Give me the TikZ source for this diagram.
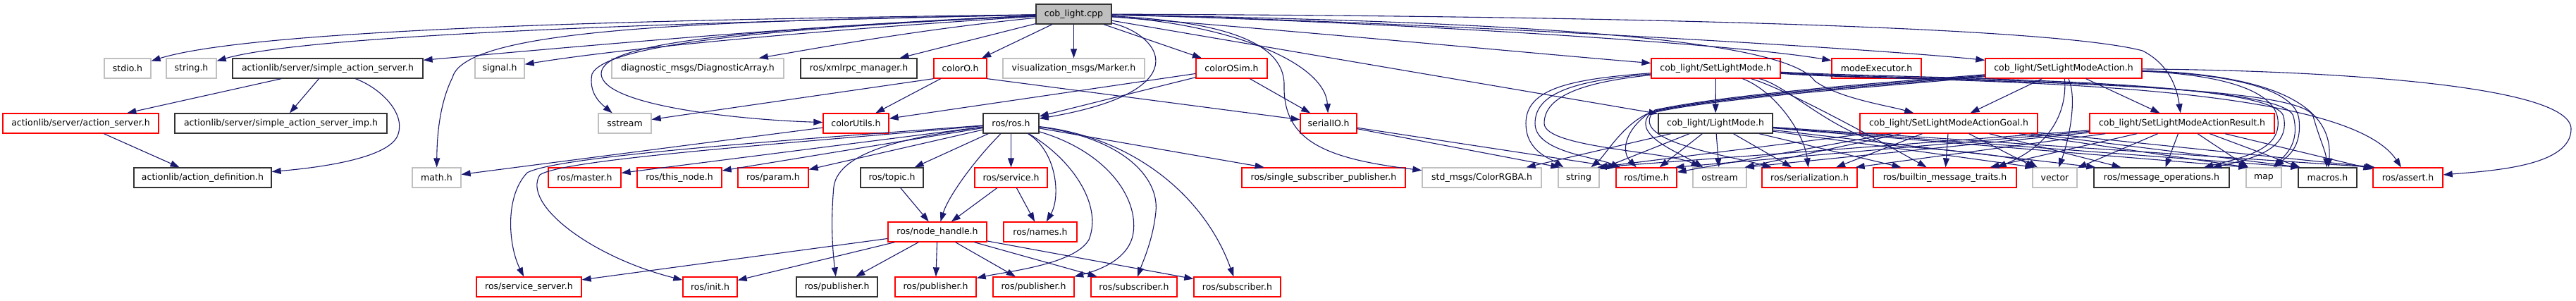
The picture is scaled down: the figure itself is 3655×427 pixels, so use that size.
\documentclass[tikz,border=0pt]{standalone}
\usepackage{fontspec}
\setmainfont{DejaVu Sans}
\usetikzlibrary{arrows.meta}
\definecolor{edgec}{HTML}{191970}
\definecolor{grayb}{HTML}{C0C0C0}
\definecolor{redb}{HTML}{FF0000}
\definecolor{rootf}{HTML}{BFBFBF}
\tikzset{
  nbox/.style={draw, rectangle, minimum height=28pt, inner sep=0pt, line width=1.3pt, font=\fontsize{12.5}{15}\selectfont, text=black},
  gbox/.style={nbox, draw=grayb},
  rbox/.style={nbox, draw=redb},
  kbox/.style={nbox, draw=black!80},
  rootbox/.style={nbox, draw=black!80, fill=rootf},
  edg/.style={draw=edgec, line width=1.1pt, -{Triangle[length=13pt,width=9pt]}},
}
\begin{document}
\begin{tikzpicture}[x=1pt,y=-1pt]
\fill[white] (0,0) rectangle (3655,427);
\useasboundingbox (0,0) rectangle (3655,427);
% row 0
\node[rootbox, minimum width=107pt] (root) at (1523.5,20) {cob\_light.cpp};
% row 1
\node[gbox, minimum width=66pt] (stdio) at (181,97) {stdio.h};
\node[gbox, minimum width=71pt] (stringh) at (271.5,97) {string.h};
\node[kbox, minimum width=270pt] (sas) at (465,97) {actionlib/server/simple\_action\_server.h};
\node[gbox, minimum width=70pt] (signal) at (709,97) {signal.h};
\node[gbox, minimum width=244pt] (diag) at (990,97) {diagnostic\_msgs/DiagnosticArray.h};
\node[kbox, minimum width=165pt] (xmlrpc) at (1218.5,97) {ros/xmlrpc\_manager.h};
\node[rbox, minimum width=75pt] (colorO) at (1362.5,97) {colorO.h};
\node[gbox, minimum width=201pt] (marker) at (1523.5,97) {visualization\_msgs/Marker.h};
\node[rbox, minimum width=101pt] (colorOSim) at (1747.5,97) {colorOSim.h};
\node[rbox, minimum width=183pt] (slm) at (2434.5,97) {cob\_light/SetLightMode.h};
\node[rbox, minimum width=127pt] (modeexec) at (2662.5,97) {modeExecutor.h};
\node[rbox, minimum width=222pt] (slma) at (2928,97) {cob\_light/SetLightModeAction.h};
% row 2
\node[rbox, minimum width=221pt] (as) at (114.5,175) {actionlib/server/action\_server.h};
\node[kbox, minimum width=301pt] (sasimp) at (398.5,175) {actionlib/server/simple\_action\_server\_imp.h};
\node[gbox, minimum width=75pt] (sstream) at (886.5,175) {sstream};
\node[rbox, minimum width=93pt] (colorutils) at (1214.5,175) {colorUtils.h};
\node[kbox, minimum width=79pt] (ros) at (1434.5,175) {ros/ros.h};
\node[rbox, minimum width=80pt] (serialio) at (1885,175) {serialIO.h};
\node[kbox, minimum width=162pt] (lightmode) at (2434,175) {cob\_light/LightMode.h};
\node[rbox, minimum width=252pt] (goal) at (2765,175) {cob\_light/SetLightModeActionGoal.h};
\node[rbox, minimum width=262pt] (result) at (3096,175) {cob\_light/SetLightModeActionResult.h};
% row 3
\node[kbox, minimum width=195pt] (actdef) at (287.5,252) {actionlib/action\_definition.h};
\node[gbox, minimum width=69pt] (math) at (619.5,252) {math.h};
\node[rbox, minimum width=103pt] (master) at (829.5,252) {ros/master.h};
\node[rbox, minimum width=120pt] (thisnode) at (964,252) {ros/this\_node.h};
\node[rbox, minimum width=100pt] (param) at (1097,252) {ros/param.h};
\node[kbox, minimum width=89pt] (topic) at (1265.5,252) {ros/topic.h};
\node[rbox, minimum width=103pt] (service) at (1434.5,252) {ros/service.h};
\node[rbox, minimum width=232pt] (ssp) at (1878,252) {ros/single\_subscriber\_publisher.h};
\node[gbox, minimum width=169pt] (colorrgba) at (2102.5,252) {std\_msgs/ColorRGBA.h};
\node[gbox, minimum width=58pt] (string) at (2240,252) {string};
\node[rbox, minimum width=86pt] (time) at (2336,252) {ros/time.h};
\node[gbox, minimum width=76pt] (ostream) at (2440,252) {ostream};
\node[rbox, minimum width=135pt] (serial) at (2567.5,252) {ros/serialization.h};
\node[rbox, minimum width=203pt] (builtin) at (2759.5,252) {ros/builtin\_message\_traits.h};
\node[gbox, minimum width=63pt] (vector) at (2915.5,252) {vector};
\node[kbox, minimum width=192pt] (msgops) at (3067,252) {ros/message\_operations.h};
\node[gbox, minimum width=50pt] (map) at (3212,252) {map};
\node[kbox, minimum width=83pt] (macros) at (3302.5,252) {macros.h};
\node[rbox, minimum width=99pt] (assert) at (3416.5,252) {ros/assert.h};
% row 4
\node[rbox, minimum width=140pt] (nh) at (1330,329) {ros/node\_handle.h};
\node[rbox, minimum width=104pt] (names) at (1476,329) {ros/names.h};
% row 5
\node[rbox, minimum width=149pt] (srvserver) at (750.5,407) {ros/service\_server.h};
\node[rbox, minimum width=77pt] (init) at (1007.5,407) {ros/init.h};
\node[kbox, minimum width=115pt] (pubb) at (1187.5,407) {ros/publisher.h};
\node[rbox, minimum width=115pt] (pub1) at (1327.5,407) {ros/publisher.h};
\node[rbox, minimum width=115pt] (pub2) at (1466.5,407) {ros/publisher.h};
\node[rbox, minimum width=122pt] (sub1) at (1609,407) {ros/subscriber.h};
\node[rbox, minimum width=123pt] (sub2) at (1755.5,407) {ros/subscriber.h};

% ---- edges from cob_light.cpp
\draw[edg] (root) .. controls (1100,26) and (380,35) .. (stdio);
\draw[edg] (root) .. controls (1100,29) and (450,45) .. (stringh);
\draw[edg] (root) .. controls (1150,35) and (800,68) .. (sas);
\draw[edg] (root) .. controls (1200,40) and (900,66) .. (signal);
\draw[edg] (root) .. controls (1000,30) and (660,40) .. (642,110) .. controls (622,150) and (620,200) .. (math);
\draw[edg] (root) .. controls (1100,40) and (860,62) .. (840,105) .. controls (835,130) and (850,145) .. (sstream);
\draw[edg] (root) .. controls (1050,42) and (852,60) .. (853,105) .. controls (855,150) and (1050,170) .. (colorutils);
\draw[edg] (root) .. controls (1300,42) and (1150,70) .. (diag);
\draw[edg] (root) -- (xmlrpc);
\draw[edg] (root) -- (colorO);
\draw[edg] (root) -- (marker);
\draw[edg] (root) .. controls (1650,50) and (1700,130) .. (ros);
\draw[edg] (root) -- (colorOSim);
\draw[edg] (root) .. controls (1750,35) and (1880,90) .. (serialio);
\draw[edg] (root) .. controls (1720,30) and (1822,55) .. (1822,120) .. controls (1820,200) and (1880,225) .. (colorrgba);
\draw[edg] (root) .. controls (1800,40) and (2200,78) .. (slm);
\draw[edg] (root) -- (lightmode);
\draw[edg] (root) .. controls (1900,28) and (2450,60) .. (modeexec);
\draw[edg] (root) .. controls (2000,30) and (2650,68) .. (slma);
\draw[edg] (root) .. controls (2100,30) and (2530,50) .. (2575,115) .. controls (2610,140) and (2680,150) .. (goal);
\draw[edg] (root) .. controls (2200,22) and (2900,35) .. (3040,72) .. controls (3075,90) and (3088,120) .. (result);

% ---- actionlib
\draw[edg] (sas) -- (as);
\draw[edg] (sas) -- (sasimp);
\draw[edg] (sas) .. controls (540,125) and (575,160) .. (565,190) .. controls (555,225) and (450,238) .. (actdef);
\draw[edg] (as) -- (actdef);

% ---- color / serial
\draw[edg] (colorO) -- (colorutils);
\draw[edg] (colorO.south west) -- (sstream);
\draw[edg] (colorO.south east) -- (serialio);
\draw[edg] (colorOSim) -- (colorutils);
\draw[edg] (colorOSim) -- (ros);
\draw[edg] (colorOSim) -- (serialio);
\draw[edg] (colorutils) -- (math);
\draw[edg] (serialio) -- ([xshift=3pt]string.north west);
\draw[edg] (serialio) -- ([xshift=2pt]time.north west);

% ---- ros/ros.h
\draw[edg] (ros) -- (master);
\draw[edg] (ros) -- (thisnode);
\draw[edg] (ros) -- (param);
\draw[edg] (ros) -- (topic);
\draw[edg] (ros) -- (service);
\draw[edg] (ros) -- (ssp);
\draw[edg] (ros) .. controls (1100,200) and (790,222) .. (748,245) .. controls (715,280) and (722,350) .. (srvserver);
\draw[edg] (ros) .. controls (1100,205) and (800,226) .. (766,248) .. controls (740,290) and (840,365) .. (init);
\draw[edg] (ros) .. controls (1300,193) and (1190,212) .. (1183,265) .. controls (1178,320) and (1182,360) .. (pubb);
\draw[edg] (ros) .. controls (1380,230) and (1345,280) .. (nh);
\draw[edg] (ros) .. controls (1500,215) and (1505,280) .. (names);
\draw[edg] (ros) .. controls (1520,225) and (1565,290) .. (1545,340) .. controls (1525,375) and (1430,385) .. (pub1);
\draw[edg] (ros) .. controls (1570,215) and (1615,280) .. (1608,330) .. controls (1603,365) and (1565,382) .. (pub2);
\draw[edg] (ros) .. controls (1590,195) and (1645,250) .. (1640,300) .. controls (1636,340) and (1622,370) .. (sub1);
\draw[edg] (ros) .. controls (1610,195) and (1710,280) .. (sub2);
\draw[edg] (topic) -- (nh);
\draw[edg] (service) -- (nh);
\draw[edg] (service) -- (names);
\draw[edg] (nh) -- (srvserver);
\draw[edg] (nh) -- (init);
\draw[edg] (nh) -- (pubb);
\draw[edg] (nh) -- (pub1);
\draw[edg] (nh) -- (pub2);
\draw[edg] (nh) -- (sub1);
\draw[edg] (nh) -- (sub2);

% ---- cob_light messages
\draw[edg] (slm) -- (lightmode);
\draw[edg] (slma) -- (goal);
\draw[edg] (slma) -- (result);
\draw[edg] (lightmode) -- (colorrgba);

% SetLightMode.h
\draw[edg] (slm) .. controls (2230,112) and (2165,125) .. (2165,175) .. controls (2165,215) and (2200,225) .. (string);
\draw[edg] (slm) .. controls (2240,114) and (2178,130) .. (2178,175) .. controls (2178,215) and (2260,222) .. (time);
\draw[edg] (slm) .. controls (2250,116) and (2191,135) .. (2191,175) .. controls (2191,210) and (2370,215) .. (ostream);
\draw[edg] (slm) .. controls (2520,130) and (2560,190) .. (serial);
\draw[edg] (slm) .. controls (2530,125) and (2650,190) .. (builtin);
\draw[edg] (slm) .. controls (2540,122) and (2610,200) .. (2700,208) .. controls (2800,215) and (2870,225) .. (vector);
\draw[edg] (slm) .. controls (2700,112) and (3225,110) .. (3240,165) .. controls (3250,210) and (3200,225) .. (msgops);
\draw[edg] (slm) .. controls (2700,114) and (3240,112) .. (3254,165) .. controls (3264,205) and (3240,222) .. (map);
\draw[edg] (slm) .. controls (2700,116) and (3265,114) .. (3282,165) .. controls (3292,200) and (3300,215) .. (macros);
\draw[edg] (slm) .. controls (2700,118) and (3320,105) .. (assert);

% SetLightModeAction.h
\draw[edg] (slma) .. controls (2700,121) and (2430,138) .. (2336,162) .. controls (2300,180) and (2278,220) .. (string);
\draw[edg] (slma) .. controls (2700,119) and (2440,136) .. (2340,160) .. controls (2305,185) and (2300,215) .. (time);
\draw[edg] (slma) .. controls (2700,117) and (2450,134) .. (2344,158) .. controls (2310,190) and (2380,215) .. (ostream);
\draw[edg] (slma) .. controls (2700,115) and (2460,132) .. (2348,156) .. controls (2305,200) and (2450,220) .. (serial);
\draw[edg] (slma) .. controls (2932,140) and (2925,200) .. ([xshift=-28pt]builtin.north east);
\draw[edg] (slma) .. controls (2948,140) and (2935,200) .. (vector);
\draw[edg] (slma) .. controls (3140,105) and (3228,125) .. (3232,170) .. controls (3236,210) and (3190,222) .. (msgops);
\draw[edg] (slma) .. controls (3160,105) and (3258,125) .. (3262,170) .. controls (3266,210) and (3245,222) .. (map);
\draw[edg] (slma) .. controls (3200,105) and (3312,140) .. (macros);
\draw[edg] (slma) .. controls (3300,100) and (3648,120) .. (3648,183) .. controls (3648,235) and (3540,242) .. (assert);

% LightMode.h
\draw[edg] (lightmode) -- (string);
\draw[edg] (lightmode) -- (time);
\draw[edg] (lightmode) -- (ostream);
\draw[edg] (lightmode) -- (serial);
\draw[edg] (lightmode) -- (builtin);
\draw[edg] (lightmode) -- ([xshift=3pt]vector.north west);
\draw[edg] (lightmode) -- ([xshift=3pt]msgops.north west);
\draw[edg] (lightmode) -- ([xshift=3pt]map.north west);
\draw[edg] (lightmode) -- ([xshift=3pt]macros.north west);
\draw[edg] (lightmode) -- ([xshift=3pt]assert.north west);

% SetLightModeActionGoal.h
\draw[edg] (goal) -- ([xshift=-3pt]string.north east);
\draw[edg] (goal) -- (time);
\draw[edg] (goal) -- ([xshift=-3pt]ostream.north east);
\draw[edg] (goal) -- (serial);
\draw[edg] (goal) -- (builtin);
\draw[edg] (goal) -- (vector);
\draw[edg] (goal) -- (msgops);
\draw[edg] (goal) -- ([xshift=3pt]map.north west);
\draw[edg] (goal) -- ([xshift=3pt]macros.north west);
\draw[edg] (goal) -- ([xshift=3pt]assert.north west);

% SetLightModeActionResult.h
\draw[edg] (result) -- ([xshift=-3pt]string.north east);
\draw[edg] (result) -- ([xshift=-3pt]time.north east);
\draw[edg] (result) -- ([xshift=-3pt]ostream.north east);
\draw[edg] (result) -- ([xshift=-3pt]serial.north east);
\draw[edg] (result) -- (builtin);
\draw[edg] (result) -- (vector);
\draw[edg] (result) -- (msgops);
\draw[edg] (result) -- (map);
\draw[edg] (result) -- (macros);
\draw[edg] (result) -- (assert);
\end{tikzpicture}
\end{document}
